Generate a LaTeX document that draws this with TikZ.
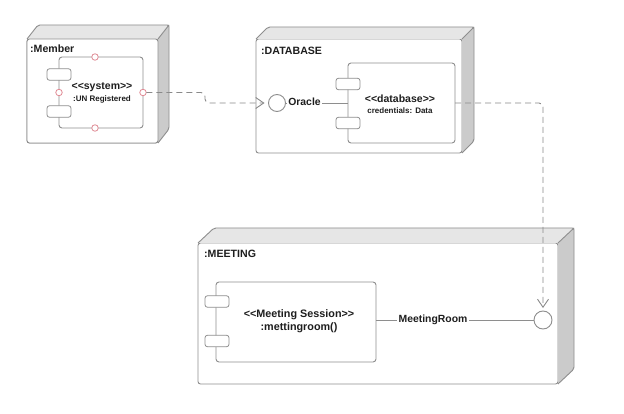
\documentclass[tikz,border=0pt]{standalone}
\usepackage{fontspec}
\setmainfont{Liberation Sans}
\usetikzlibrary{calc,arrows.meta}
\definecolor{boxline}{HTML}{8E8E8E}
\definecolor{topgray}{HTML}{E6E6E6}
\definecolor{sidegray}{HTML}{CBCBCB}
\definecolor{portpink}{HTML}{E08A94}
\definecolor{txt}{HTML}{1E1E1E}
\definecolor{dashgray}{HTML}{8A8A8A}
\tikzset{
  front/.style={draw=boxline, line width=0.9pt, fill=white, rectangle, rounded corners=2.5pt, inner sep=0pt, outer sep=0pt},
  comp/.style={draw=boxline, line width=0.9pt, fill=white, rectangle, rounded corners=3pt, inner sep=0pt, outer sep=0pt},
  tab/.style={draw=boxline, line width=0.8pt, fill=white, rectangle, rounded corners=2.5pt, inner sep=0pt, outer sep=0pt, minimum width=24pt, minimum height=11.5pt},
  port/.style={draw=portpink, line width=0.8pt, fill=white, circle, inner sep=0pt, outer sep=0pt, minimum size=6.5pt},
  iface/.style={draw=boxline, line width=0.9pt, fill=white, circle, inner sep=0pt, outer sep=0pt},
  title/.style={text=txt, font=\bfseries\fontsize{10.6}{12}\selectfont, anchor=west, inner sep=0pt},
  big/.style={text=txt, font=\bfseries\fontsize{10.5}{12}\selectfont, inner sep=0pt},
  small/.style={text=txt, font=\bfseries\fontsize{8}{9}\selectfont, inner sep=0pt},
  lbl/.style={text=txt, font=\bfseries\fontsize{10.4}{12}\selectfont, fill=white, inner sep=1.5pt},
  wire/.style={draw=boxline, line width=0.9pt},
  dep/.style={draw=dashgray, line width=0.9pt, dash pattern=on 6pt off 4pt, -{Straight Barb[length=8pt,width=11pt]}},
}
\newcommand{\cubeface}[3]{%
  % #1 node name, #2 dx, #3 dy (up)
  \fill[topgray] (#1.north west) -- ++(#2,-#3) -- ($(#1.north east)+(#2,-#3)$) -- (#1.north east) -- cycle;
  \fill[sidegray] (#1.north east) -- ($(#1.north east)+(#2,-#3)$) -- ($(#1.south east)+(#2,-#3)$) -- (#1.south east) -- cycle;
  \draw[boxline, line width=0.9pt, rounded corners=2pt] (#1.north west) -- ++(#2,-#3) -- ($(#1.north east)+(#2,-#3)$) -- ($(#1.south east)+(#2,-#3)$) -- (#1.south east);
  \draw[boxline, line width=0.9pt] (#1.north east) -- ($(#1.north east)+(#2,-#3)$);
}
\newcommand{\lt}{<{}<}
\newcommand{\gtt}{>{}>}
\begin{document}
\begin{tikzpicture}[x=1pt,y=-1pt]
\useasboundingbox (0,0) rectangle (624,414);
\fill[white] (0,0) rectangle (624,414);

% ---------- Member ----------
\node[front, minimum width=131pt, minimum height=104pt] (member) at (92.5,91) {};
\cubeface{member}{11}{14}
\node[front, minimum width=131pt, minimum height=104pt] (memberF) at (92.5,91) {};
\node[title] (membert) at (30,49) {:Member};
\node[comp, minimum width=84pt, minimum height=71pt] (sys) at (101,92.5) {};
\node[tab] (st1) at (59,74.5) {};
\node[tab] (st2) at (59,111.5) {};
\node[port] (pT) at (95,57) {};
\node[port] (pB) at (95,128) {};
\node[port] (pL) at (59,92.5) {};
\node[port] (pR) at (143,92.5) {};
\node[big] (syst1) at (102,87) {\lt system\gtt};
\node[small] (syst2) at (102,99) {:UN Registered};

% ---------- DATABASE ----------
\node[front, minimum width=206pt, minimum height=114pt] (db) at (359,96) {};
\cubeface{db}{12}{12}
\node[title] (dbt) at (261,51) {:DATABASE};
\node[comp, minimum width=107pt, minimum height=80pt] (dbc) at (401.5,103) {};
\node[tab] (dt1) at (348,84) {};
\node[tab] (dt2) at (348,123) {};
\node[big] (dbt1) at (400,98.5) {\lt database\gtt};
\node[small] (dbt2) at (400,110.5) {credentials: Data};
\node[iface, minimum size=17pt] (oracle) at (277,103) {};
\draw[wire] (oracle.east) -- (dbc.west);
\node[lbl] (oraclel) at (304.5,102) {Oracle};

% ---------- MEETING ----------
\node[front, minimum width=360pt, minimum height=141pt] (meet) at (378,313.5) {};
\cubeface{meet}{16}{15}
\node[title] (meett) at (204,254) {:MEETING};
\node[comp, minimum width=160pt, minimum height=80pt] (msess) at (296,322) {};
\node[tab] (mt1) at (217,301.5) {};
\node[tab] (mt2) at (217,341) {};
\node[big, font=\bfseries\fontsize{10.8}{13}\selectfont] (mst1) at (299,315) {\lt Meeting Session\gtt};
\node[big, font=\bfseries\fontsize{10.8}{13}\selectfont] (mst2) at (299,327.5) {:mettingroom()};
\node[iface, minimum size=18pt] (mroom) at (543,320) {};
\draw[wire] (msess.east |- mroom) -- (mroom.west);
\node[lbl] (mrooml) at (433,320) {MeetingRoom};

% ---------- dependencies ----------
\coordinate (bend1) at (205,92.5);
\draw[dep, rounded corners=4pt, shorten >=4pt] (pR.east) -- (bend1) -- (bend1 |- oracle) -- (oracle.west);
\draw[dep, rounded corners=4pt, shorten >=3pt] (dbc.east) -- (dbc.east -| mroom) -- (mroom.north);
\end{tikzpicture}
\end{document}
